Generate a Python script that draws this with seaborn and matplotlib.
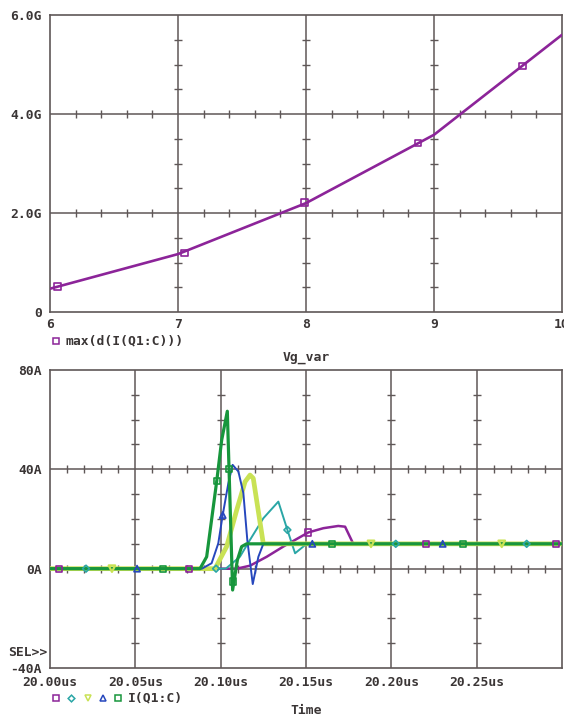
import numpy as np
import pandas as pd
import matplotlib
matplotlib.use("Agg")
import matplotlib.pyplot as plt
from matplotlib.lines import Line2D
import seaborn as sns

# ---------------- data ----------------
# top plot: max(d(I(Q1:C))) vs Vg_var, in G units
top_vg = [6, 7, 8, 9, 10]
top_val = [0.47, 1.17, 2.20, 3.58, 5.60]
top_mk_vg = [6.06, 7.05, 7.99, 8.875, 9.69]
top_mk_val = [0.51, 1.19, 2.21, 3.41, 4.97]
top_xticks = [6, 7, 8, 9, 10]
top_xlabels = ["6", "7", "8", "9", "10"]
top_yticks = [0, 2, 4, 6]
top_ylabels = ["0", "2.0G", "4.0G", "6.0G"]

# bottom plot: I(Q1:C) vs time (us), five sweep traces
purple_t = [20.00, 20.1094, 20.1172, 20.1270, 20.1367, 20.1514, 20.1602, 20.1689, 20.1729, 20.1777, 20.30]
purple_i = [0, 0, 1.2, 4.8, 8.9, 14.6, 16.3, 17.2, 16.9, 10.0, 10.0]
teal_t = [20.00, 20.1030, 20.1113, 20.1172, 20.1250, 20.1338, 20.1391, 20.1436, 20.1504, 20.30]
teal_i = [0, 0, 4.8, 11.6, 20.3, 27.0, 15.6, 6.2, 10.0, 10.0]
yellow_t = [20.00, 20.0967, 20.1035, 20.1094, 20.1143, 20.1172, 20.1191, 20.1250, 20.30]
yellow_i = [0, 0, 8.9, 23.6, 35.0, 37.7, 36.4, 10.0, 10.0]
blue_t = [20.00, 20.0890, 20.0947, 20.0986, 20.1012, 20.1045, 20.1070, 20.1104, 20.1133, 20.1156, 20.1188, 20.1221, 20.1250, 20.30]
blue_i = [0, 0, 2.2, 10.2, 21.6, 34.4, 41.8, 39.1, 30.4, 11.6, -6.2, 4.8, 10.0, 10.0]
green_t = [20.00, 20.0879, 20.0918, 20.0977, 20.1006, 20.1039, 20.1070, 20.1098, 20.1123, 20.1152, 20.30]
green_i = [0, 0, 4.8, 35.3, 51.8, 63.4, -8.6, 3.5, 8.9, 10.0, 10.0]

purple_mk_t = [20.0053, 20.0814, 20.1514, 20.2201, 20.2963]
purple_mk_i = [0, 0, 14.6, 10, 10]
teal_mk_t = [20.0211, 20.0973, 20.1391, 20.2026, 20.2793]
teal_mk_i = [0, 0, 15.6, 10, 10]
yellow_mk_t = [20.0363, 20.1881, 20.2647]
yellow_mk_i = [0, 10, 10]
blue_mk_t = [20.0510, 20.1012, 20.1537, 20.2301]
blue_mk_i = [0, 21.6, 10, 10]
green_mk_t = [20.0662, 20.0977, 20.1049, 20.1074, 20.1652, 20.2418]
green_mk_i = [0, 35.3, 40.0, -5.2, 10, 10]

bot_xticks = [20.00, 20.05, 20.10, 20.15, 20.20, 20.25]
bot_xlabels = ["20.00us", "20.05us", "20.10us", "20.15us", "20.20us", "20.25us"]
bot_yticks = [-40, 0, 40, 80]
bot_ylabels = ["-40A", "0A", "40A", "80A"]

# ---------------- style ----------------
sns.set_theme(style="white")
plt.rcParams["font.family"] = ["DejaVu Sans Mono"]
plt.rcParams["font.weight"] = "bold"

W, H = 564, 716
fig = plt.figure(figsize=(W / 100, H / 100), dpi=100)
fig.patch.set_facecolor("white")

GRID = "#5f5757"
TXT = "#3a3535"
FS = 9.4

C_PURPLE = "#8c2499"
C_TEAL = "#2aa6a6"
C_YEL = "#c9e255"
C_BLUE = "#2647bd"
C_GREEN = "#17963c"


def fx(px):
    return px / W


def fy(py):
    return 1 - py / H


def style_axes(ax, xpad):
    for s in ax.spines.values():
        s.set_color(GRID)
        s.set_linewidth(1.2)
    ax.tick_params(axis="y", direction="out", length=5, width=1.1, color=GRID,
                   labelsize=FS, labelcolor=TXT, pad=1)
    ax.tick_params(axis="x", direction="out", length=0, color=GRID,
                   labelsize=FS, labelcolor=TXT, pad=xpad)
    for lab in ax.get_xticklabels() + ax.get_yticklabels():
        lab.set_fontweight("bold")


def crosses(ax, hlines, xs_minor, vlines, ys_minor):
    for gy in hlines:
        ax.plot(xs_minor, [gy] * len(xs_minor), ls="none", marker="|", ms=6,
                mew=1.0, color=GRID, zorder=1)
    for gx in vlines:
        ax.plot([gx] * len(ys_minor), ys_minor, ls="none", marker="_", ms=6,
                mew=1.0, color=GRID, zorder=1)


def hollow(ax, x, y, marker, color, s=20, lw=1.2, z=6):
    sns.scatterplot(x=x, y=y, ax=ax, marker=marker, s=s, facecolor="none",
                    edgecolor=color, linewidth=lw, zorder=z, legend=False)


# ---------------- top axes ----------------
ax1 = fig.add_axes([fx(50), fy(312), fx(562 - 50), (312 - 15) / H])
ax1.set_xlim(6, 10)
ax1.set_ylim(0, 6)
for gx in [7, 8, 9]:
    ax1.axvline(gx, color=GRID, lw=1.1, zorder=1)
for gy in [2, 4]:
    ax1.axhline(gy, color=GRID, lw=1.1, zorder=1)
xs_m = [v for v in np.round(np.arange(6.2, 10.0, 0.2), 2) if abs(v - round(v)) > 1e-6]
ys_m = [v for v in np.arange(0.5, 6.0, 0.5) if v not in (2.0, 4.0)]
crosses(ax1, [2, 4], xs_m, [7, 8, 9], ys_m)

df_top = pd.DataFrame({"Vg": top_vg, "val": top_val})
sns.lineplot(data=df_top, x="Vg", y="val", ax=ax1, color=C_PURPLE, lw=1.9,
             estimator=None, sort=False, zorder=5)
hollow(ax1, top_mk_vg, top_mk_val, "s", C_PURPLE, s=22)
ax1.set_xticks(top_xticks)
ax1.set_xticklabels(top_xlabels)
ax1.set_yticks(top_yticks)
ax1.set_yticklabels(top_ylabels)
ax1.set_xlabel("")
ax1.set_ylabel("")
style_axes(ax1, 4)

# ---------------- bottom axes ----------------
ax2 = fig.add_axes([fx(50), fy(668), fx(562 - 50), (668 - 370) / H])
ax2.set_xlim(20.00, 20.30)
ax2.set_ylim(-40, 80)
for gx in bot_xticks[1:]:
    ax2.axvline(gx, color=GRID, lw=1.1, zorder=1)
for gy in [0, 40]:
    ax2.axhline(gy, color=GRID, lw=1.1, zorder=1)
xs_m2 = [v for v in np.round(np.arange(20.01, 20.30, 0.01), 3)
         if abs(v * 20 - round(v * 20)) > 1e-6]
ys_m2 = [v for v in range(-30, 80, 10) if v not in (0, 40)]
crosses(ax2, [0, 40], xs_m2, bot_xticks[1:], ys_m2)

traces = [
    (purple_t, purple_i, C_PURPLE, 1.8),
    (teal_t, teal_i, C_TEAL, 1.4),
    (yellow_t, yellow_i, C_YEL, 3.4),
    (blue_t, blue_i, C_BLUE, 1.4),
    (green_t, green_i, C_GREEN, 2.3),
]
for k, (t, i, c, lw) in enumerate(traces):
    d = pd.DataFrame({"t": t, "i": i})
    sns.lineplot(data=d, x="t", y="i", ax=ax2, color=c, lw=lw, estimator=None,
                 sort=False, zorder=3 + k * 0.1)

hollow(ax2, purple_mk_t, purple_mk_i, "s", C_PURPLE, s=20)
hollow(ax2, teal_mk_t, teal_mk_i, "D", C_TEAL, s=12)
hollow(ax2, yellow_mk_t, yellow_mk_i, "v", C_YEL, s=22, lw=1.6)
hollow(ax2, blue_mk_t, blue_mk_i, "^", C_BLUE, s=20)
hollow(ax2, green_mk_t, green_mk_i, "s", C_GREEN, s=20)

ax2.set_xticks(bot_xticks)
ax2.set_xticklabels(bot_xlabels)
ax2.set_yticks(bot_yticks)
ax2.set_yticklabels(bot_ylabels)
ax2.set_xlabel("")
ax2.set_ylabel("")
style_axes(ax2, 6)

# ---------------- labels / legends ----------------
def ftext(px, py, s, ha="left", va="center", size=FS):
    fig.text(fx(px), fy(py), s, ha=ha, va=va, fontsize=size, color=TXT,
             fontweight="bold", family=["DejaVu Sans Mono"])


def fmark(px, py, marker, color, ms=4.2):
    fig.add_artist(Line2D([fx(px)], [fy(py)], transform=fig.transFigure,
                          marker=marker, ms=ms, mfc="none", mec=color, mew=1.1,
                          ls="none"))


fmark(56, 341, "s", C_PURPLE)
ftext(66, 341, "max(d(I(Q1:C)))")
ftext(306, 357, "Vg_var", ha="center")

ftext(8, 652, "SEL>>")

fmark(56, 698, "s", C_PURPLE)
fmark(71, 698, "D", C_TEAL, ms=3.4)
fmark(88, 698, "v", C_YEL)
fmark(103, 698, "^", C_BLUE)
fmark(118, 698, "s", C_GREEN)
ftext(128, 698, "I(Q1:C)")
ftext(306, 710, "Time", ha="center")

fig.savefig("out.png", dpi=100, facecolor="white")
